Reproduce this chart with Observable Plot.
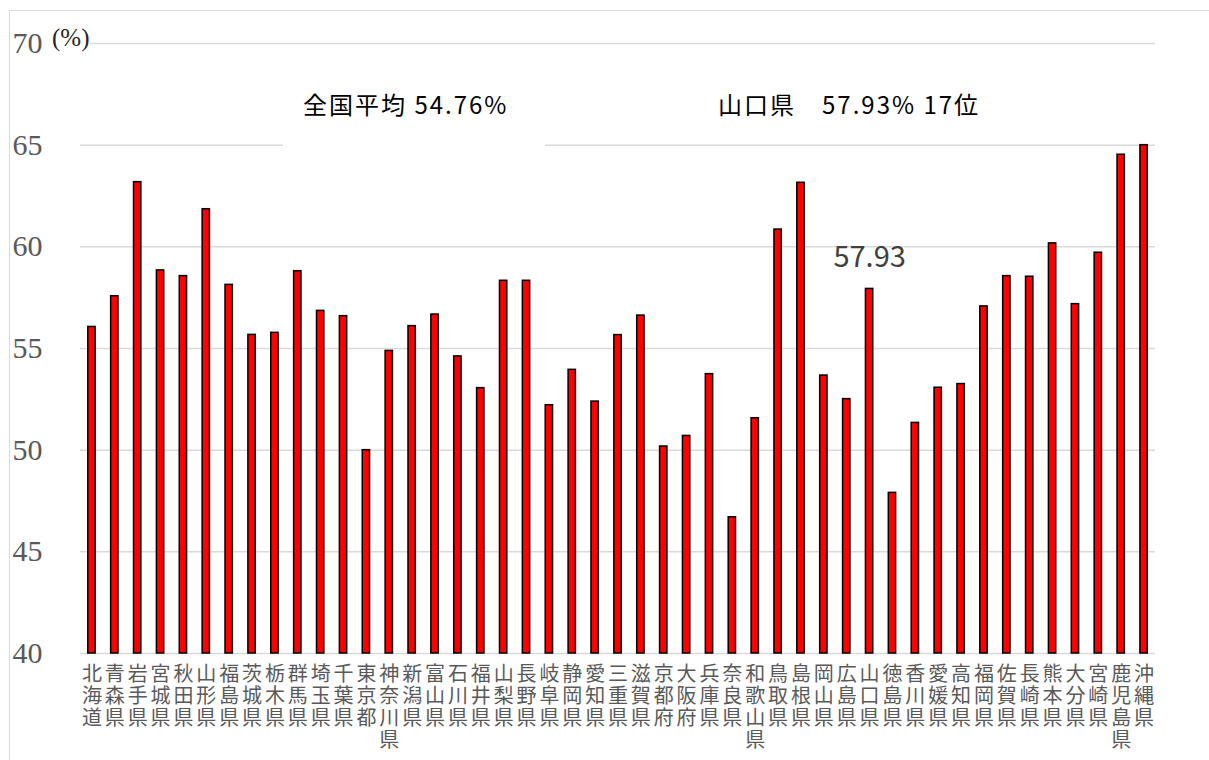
<!DOCTYPE html>
<html><head><meta charset="utf-8">
<script src="https://cdn.jsdelivr.net/npm/d3@7"></script>
<script src="https://cdn.jsdelivr.net/npm/@observablehq/plot@0.6"></script>
<style>
html,body{margin:0;padding:0;background:#fff;}
#wrap{position:relative;width:1209px;height:760px;overflow:hidden;}
#chart{position:absolute;left:0;top:0;}
#frame{position:absolute;left:9px;top:10px;width:1220px;height:800px;border:1px solid #d9d9d9;pointer-events:none;}
.note{position:absolute;background:#fff;font-family:"Noto Sans CJK JP",sans-serif;color:#000;font-size:24px;line-height:1;white-space:pre;box-sizing:border-box;}
</style></head><body>
<div id="wrap">
<div id="chart"></div>
<div id="frame"></div>
<div class="note" id="unit" style="left:52px;top:24px;font-family:'Liberation Serif',serif;font-size:25px;padding:1px 1px 2px 0;color:#262626;"></div>
<div class="note" id="avg" style="left:283px;top:72px;width:262px;height:78px;padding:20px 0 0 20px;letter-spacing:2px;"></div>
<div class="note" id="pref" style="left:700px;top:72px;width:300px;height:60px;padding:20px 0 0 18px;letter-spacing:2px;"></div>
</div>
<script>
const prefectures = ["北海道","青森県","岩手県","宮城県","秋田県","山形県","福島県","茨城県","栃木県","群馬県","埼玉県","千葉県","東京都","神奈川県","新潟県","富山県","石川県","福井県","山梨県","長野県","岐阜県","静岡県","愛知県","三重県","滋賀県","京都府","大阪府","兵庫県","奈良県","和歌山県","鳥取県","島根県","岡山県","広島県","山口県","徳島県","香川県","愛媛県","高知県","福岡県","佐賀県","長崎県","熊本県","大分県","宮崎県","鹿児島県","沖縄県"];
const rates = [56.06,57.57,63.18,58.84,58.56,61.85,58.13,55.67,55.77,58.80,56.85,56.59,50.00,54.88,56.10,56.67,54.61,53.05,58.33,58.33,52.21,53.95,52.39,55.66,56.62,50.18,50.70,53.74,46.70,51.57,60.85,63.15,53.67,52.51,57.93,47.90,51.34,53.07,53.25,57.07,58.56,58.53,60.17,57.18,59.71,64.53,65.00];
const yTicks = [40,45,50,55,60,65,70];
const highlight = "山口県";
const avgText = "全国平均 54.76%";
const prefText = "山口県　57.93% 17位";
const unitText = "(%)";

document.getElementById("avg").textContent = avgText;
document.getElementById("pref").textContent = prefText;
document.getElementById("unit").textContent = unitText;

const data = prefectures.map((p, i) => ({p, v: rates[i]}));

const chart = Plot.plot({
  width: 1209, height: 760,
  marginLeft: 80, marginRight: 54, marginTop: 43, marginBottom: 107,
  style: {fontFamily: '"Noto Sans CJK JP", sans-serif', background: "transparent"},
  x: {domain: prefectures, paddingInner: 0.68, paddingOuter: 0.34, axis: null},
  y: {domain: [40, 70], axis: null},
  marks: [
    Plot.gridY(yTicks, {stroke: "#d9d9d9", strokeOpacity: 1, strokeWidth: 1.5}),
    Plot.axisY(yTicks, {tickSize: 0, tickPadding: 38, fontSize: 30, fontFamily: "Liberation Serif", fill: "#595959", label: null}),
    Plot.axisX({tickSize: 0, tickPadding: 12, fontSize: 20, lineHeight: 1.1, fill: "#595959", label: null, tickFormat: d => [...d].join("\n")}),
    Plot.barY(data, {x: "p", y1: 40, y2: "v", fill: "#ff0000", stroke: "#000", strokeWidth: 1.5}),
    Plot.text(data.filter(d => d.p === highlight), {x: "p", y: "v", text: d => d.v.toFixed(2), dy: -31, fontSize: 29, fill: "#404040"})
  ]
});
document.getElementById("chart").appendChild(chart);
</script>
</body></html>
